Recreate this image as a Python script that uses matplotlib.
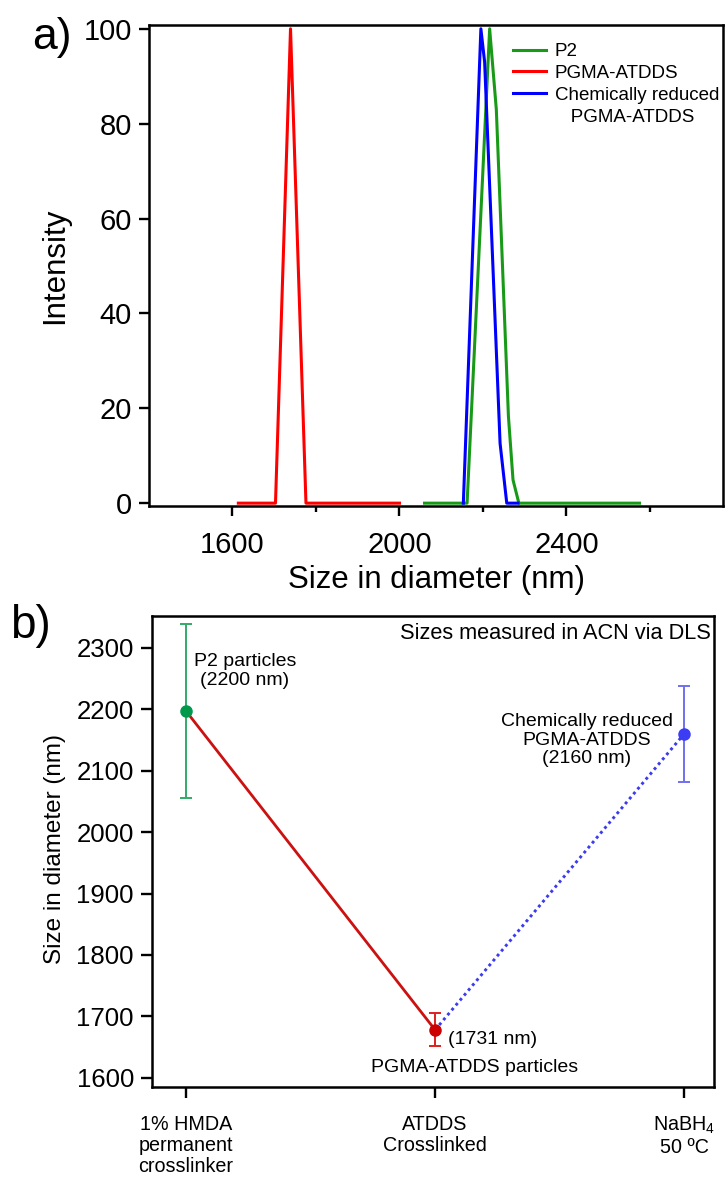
import matplotlib
matplotlib.use('Agg')
import matplotlib.pyplot as plt
from matplotlib.lines import Line2D

plt.rcParams['font.family'] = ['Liberation Sans', 'DejaVu Sans']
plt.rcParams['mathtext.fontset'] = 'custom'
plt.rcParams['mathtext.rm'] = 'Liberation Sans'
plt.rcParams['mathtext.it'] = 'Liberation Sans:italic'
plt.rcParams['mathtext.bf'] = 'Liberation Sans:bold'

# ---------------- data: panel a (DLS size distributions) ----------------
p2_size = [2060, 2162, 2216, 2232, 2261, 2272, 2286, 2575]
p2_int = [0, 0, 100, 83, 18.3, 4.9, 0, 0]
pgma_size = [1614, 1703, 1739, 1776, 2000]
pgma_int = [0, 0, 100, 0, 0]
red_size = [2153, 2195, 2204, 2241, 2257, 2284]
red_int = [0, 100, 93, 12.6, 0, 0]
legend_labels = ['P2', 'PGMA-ATDDS', 'Chemically reduced', '   PGMA-ATDDS']
xa_major = [1600, 2000, 2400]
xa_minor = [1800, 2200, 2600]
ya_ticks = [0, 20, 40, 60, 80, 100]

# ---------------- data: panel b (mean sizes) ----------------
categories = ['1% HMDA\npermanent\ncrosslinker', 'ATDDS\nCrosslinked', 'NaBH$_4$\n50 \u00baC']
mean_size = [2197, 1678, 2160]
size_err = [142, 27, 78]
yb_ticks = [1600, 1700, 1800, 1900, 2000, 2100, 2200, 2300]

W, H = 725, 1177
fig = plt.figure(figsize=(W / 100, H / 100), dpi=100)


def ax_rect(l, t, r, b):
    return [l / W, 1 - b / H, (r - l) / W, (b - t) / H]


# ======================= panel a =======================
axa = fig.add_axes(ax_rect(149, 25, 723, 506))
axa.plot(p2_size, p2_int, color='#189a18', lw=2.2)
axa.plot(pgma_size, pgma_int, color='#ff0000', lw=2.2)
axa.plot(red_size, red_int, color='#0000ff', lw=2.2)
axa.set_xlim(1400, 2775)
axa.set_ylim(-0.6, 100.8)
axa.set_xticks(xa_major)
axa.set_xticks(xa_minor, minor=True)
axa.set_yticks(ya_ticks)
axa.tick_params(which='both', direction='out', top=False, right=False, width=1.7)
axa.tick_params(which='major', length=7.5, labelsize=21)
axa.tick_params(axis='x', which='major', pad=10.5)
axa.tick_params(axis='y', which='major', pad=5)
axa.tick_params(axis='x', which='minor', length=4.5)
for s in axa.spines.values():
    s.set_linewidth(1.8)
axa.set_xlabel('Size in diameter (nm)', fontsize=22.5)
axa.set_ylabel('Intensity', fontsize=22.5)
axa.xaxis.label.set_va('center')
axa.yaxis.label.set_va('center')
axa.xaxis.set_label_coords(0.5, (506 - 580) / 481)
axa.yaxis.set_label_coords((55 - 149) / 574, 0.5)

handles = [Line2D([], [], color='#189a18', lw=2.2),
           Line2D([], [], color='#ff0000', lw=2.2),
           Line2D([], [], color='#0000ff', lw=2.2),
           Line2D([], [], linestyle='none')]
leg = axa.legend(handles, legend_labels, loc='upper left',
                 bbox_to_anchor=(513 / W, 1 - 43 / H), bbox_transform=fig.transFigure,
                 frameon=False, fontsize=13.5, handlelength=1.76, handletextpad=0.48,
                 labelspacing=0.25, borderpad=0, borderaxespad=0)

fig.text(32 / W, 1 - 38 / H, 'a)', fontsize=32, ha='left', va='center')

# ======================= panel b =======================
axb = fig.add_axes(ax_rect(152, 616, 714, 1087))
xpos = list(range(len(categories)))
err_colors = ['#33aa66', '#dd2020', '#7070f0']
mk_colors = ['#00994c', '#cc0000', '#3c3cf5']
for i in xpos:
    axb.errorbar(xpos[i], mean_size[i], yerr=size_err[i], fmt='none',
                 ecolor=err_colors[i], elinewidth=1.4, capsize=4.5, capthick=1.4, zorder=2)
axb.plot(xpos[0:2], mean_size[0:2], color='#cc1111', lw=2.0, zorder=3)
axb.plot(xpos[1:3], mean_size[1:3], color='#3b3bef', lw=2.1,
         linestyle=(0, (1, 1.2)), zorder=3)
for i in xpos:
    axb.plot(xpos[i], mean_size[i], 'o', ms=8, color=mk_colors[i], zorder=4)

axb.set_xlim(-0.137, 2.12)
axb.set_ylim(1585, 2352)
axb.set_xticks(xpos)
axb.set_xticklabels(categories, fontsize=14.2, linespacing=1.13)
axb.set_yticks(yb_ticks)
axb.tick_params(which='both', direction='out', top=False, right=False, width=1.7, length=8)
axb.tick_params(axis='y', labelsize=18.5, pad=5)
axb.tick_params(axis='x', pad=12)
for s in axb.spines.values():
    s.set_linewidth(1.8)
axb.set_ylabel('Size in diameter (nm)', fontsize=17.5)
axb.yaxis.label.set_va('center')
axb.yaxis.set_label_coords((55 - 152) / 562, 0.505)


def axp(px, py):
    return ((px - 152) / 562, (1087 - py) / 471)


axb.text(*axp(711, 633), 'Sizes measured in ACN via DLS', transform=axb.transAxes,
         ha='right', va='center', fontsize=15.7)
axb.text(*axp(245, 671), 'P2 particles\n(2200 nm)', transform=axb.transAxes,
         ha='center', va='center', multialignment='center', fontsize=14, linespacing=1.15)
axb.text(*axp(587, 740), 'Chemically reduced\nPGMA-ATDDS\n(2160 nm)', transform=axb.transAxes,
         ha='center', va='center', multialignment='center', fontsize=14, linespacing=1.15)
axb.text(*axp(448, 1039), '(1731 nm)', transform=axb.transAxes,
         ha='left', va='center', fontsize=14)
axb.text(*axp(475, 1067), 'PGMA-ATDDS particles', transform=axb.transAxes,
         ha='center', va='center', fontsize=14)

fig.text(10 / W, 1 - 626 / H, 'b)', fontsize=33, ha='left', va='center')

fig.savefig('out.png', dpi=100)
